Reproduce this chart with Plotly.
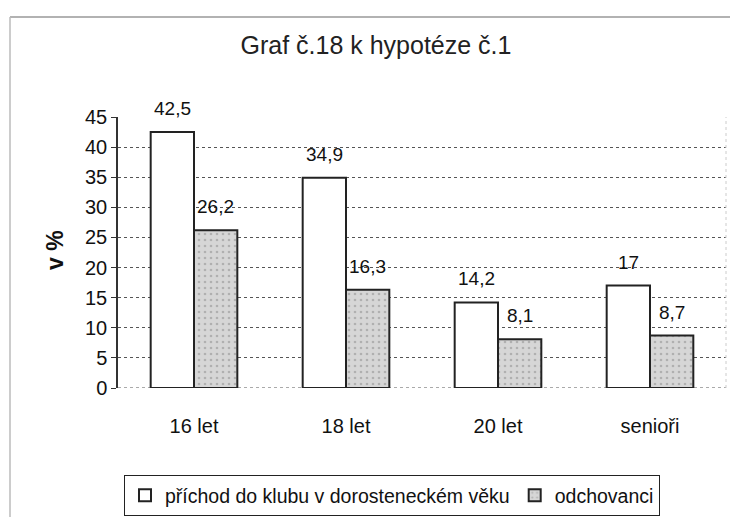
import plotly.graph_objects as go

categories = ["16 let", "18 let", "20 let", "senioři"]
series_names = ["příchod do klubu v dorosteneckém věku", "odchovanci"]
prichod = [42.5, 34.9, 14.2, 17]
odchovanci = [26.2, 16.3, 8.1, 8.7]
y_ticks = [0, 5, 10, 15, 20, 25, 30, 35, 40, 45]

FONT = "Liberation Sans, Arial, sans-serif"
# page body has an 8px default margin; figure is sized to fill the rest
OFF = 8
W, H = 738 - OFF, 517 - OFF
# plot area in screen pixels: x 118..726, y 117..388
L, R, T, B = 118 - OFF, W - (726 - OFF), 117 - OFF, H - (388 - OFF)
BARGAP = 0.43

fig = go.Figure()
fig.add_trace(go.Bar(
    x=categories, y=prichod, name=series_names[0],
    marker=dict(color="white", line=dict(color="#222", width=2)),
))
fig.add_trace(go.Bar(
    x=categories, y=odchovanci, name=series_names[1],
    marker=dict(color="#d2d2d2", line=dict(color="#222", width=2),
                pattern=dict(shape=".", fgcolor="#8a8a8a", bgcolor="#d6d6d6",
                             size=6, solidity=0.15)),
))

half = (1 - BARGAP) / 4
for i, c in enumerate(categories):
    for off, vals in ((-half, prichod), (half, odchovanci)):
        v = vals[i]
        fig.add_annotation(x=i + off, y=v, text=f"{v:g}".replace(".", ","),
                           showarrow=False, yanchor="bottom", yshift=11,
                           font=dict(size=19, color="#111", family=FONT))

pw, ph = W - L - R, H - T - B
def px(xs): return (xs - OFF - L) / pw          # screen x -> paper
def py(ys): return (H - B - (ys - OFF)) / ph    # screen y -> paper

# y axis title
fig.add_annotation(xref="paper", yref="paper", x=px(55), y=py(250),
                   text="<b>v %</b>", textangle=-90, showarrow=False,
                   xanchor="center", yanchor="middle",
                   font=dict(size=23, family=FONT, color="#111"))

# outer frame lines
fig.add_shape(type="line", xref="paper", yref="paper", x0=px(10), x1=px(738),
              y0=py(17), y1=py(17), line=dict(color="#999", width=1.5))
fig.add_shape(type="line", xref="paper", yref="paper", x0=px(10), x1=px(10),
              y0=py(17), y1=py(517), line=dict(color="#bbb", width=1.5))
# right plot border and baseline
fig.add_shape(type="line", xref="paper", yref="paper", x0=1, x1=1, y0=0, y1=1,
              line=dict(color="#ccc", width=1, dash="dot"))
fig.add_shape(type="line", xref="paper", yref="y", x0=0, x1=1, y0=0, y1=0,
              line=dict(color="#555", width=1, dash="dot"), layer="below")

fig.update_layout(
    width=W, height=H,
    margin=dict(l=L, r=R, t=T, b=B, autoexpand=False),
    paper_bgcolor="white", plot_bgcolor="white",
    separators=", ",
    barmode="group", bargap=BARGAP, bargroupgap=0,
    font=dict(family=FONT, color="#111", size=20),
    title=dict(text="Graf č.18 k hypotéze č.1", x=(376 - OFF) / W, xref="container",
               xanchor="center", y=1 - (45 - OFF) / H, yref="container",
               yanchor="middle",
               font=dict(size=25, family=FONT, color="#222")),
    showlegend=True,
    legend=dict(orientation="h", x=(392 - OFF) / W, xref="container",
                xanchor="center", y=1 - (475 - OFF) / H, yref="container",
                yanchor="top",
                bordercolor="#222", borderwidth=1, bgcolor="white",
                font=dict(size=19.5, family=FONT, color="#111"),
                itemwidth=30, tracegroupgap=0),
)
fig.update_xaxes(
    showgrid=False, showline=False, ticks="", ticklabelstandoff=24,
    tickfont=dict(size=20, family=FONT), automargin=False,
)
fig.update_yaxes(
    range=[0, 45], tickvals=y_ticks, showgrid=True, gridcolor="#555",
    griddash="dot", gridwidth=1, zeroline=False,
    showline=True, linecolor="#333", linewidth=1.5,
    ticks="outside", ticklen=5, tickcolor="#333",
    tickfont=dict(size=20, family=FONT), automargin=False,
)
fig.write_html("out.html")
